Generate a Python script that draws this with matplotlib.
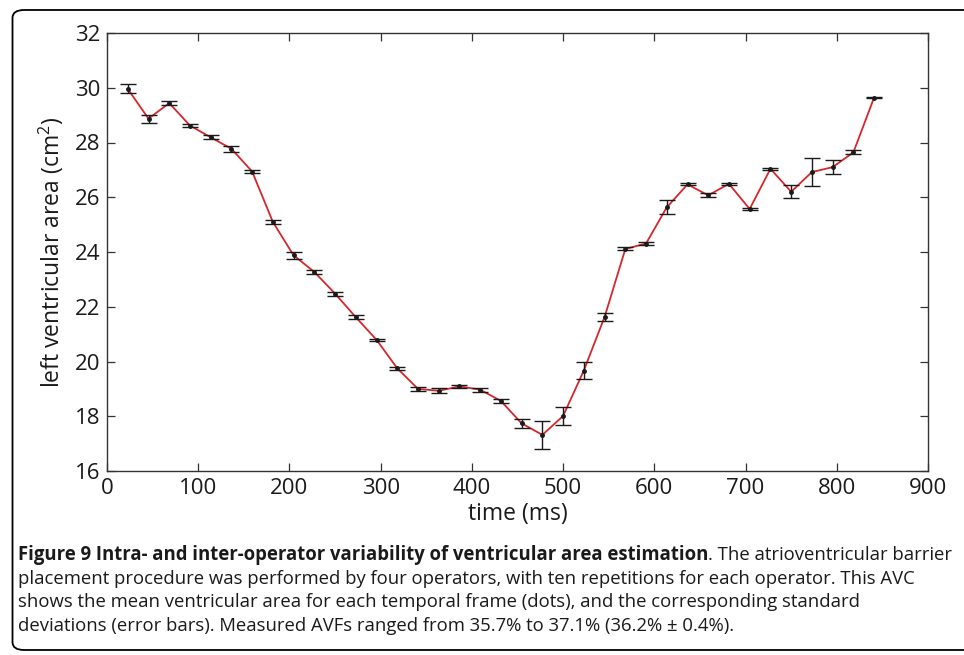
import matplotlib
matplotlib.use("Agg")
import matplotlib.pyplot as plt
from matplotlib.patches import FancyBboxPatch
from matplotlib import font_manager

times = [22.7, 45.5, 68.2, 90.9, 113.6, 136.4, 159.1, 181.8, 204.5, 227.3,
         250.0, 272.7, 295.5, 318.2, 340.9, 363.6, 386.4, 409.1, 431.8, 454.5,
         477.3, 500.0, 522.7, 545.5, 568.2, 590.9, 613.6, 636.4, 659.1, 681.8,
         704.5, 727.3, 750.0, 772.7, 795.5, 818.2, 840.9]
mean_area = [29.96, 28.87, 29.44, 28.62, 28.19, 27.77, 26.94, 25.10, 23.88, 23.27,
             22.48, 21.62, 20.79, 19.75, 19.00, 18.93, 19.09, 18.97, 18.56, 17.74,
             17.32, 18.01, 19.67, 21.63, 24.11, 24.31, 25.63, 26.47, 26.07, 26.49,
             25.57, 27.04, 26.20, 26.92, 27.10, 27.64, 29.64]
std_area = [0.17, 0.15, 0.085, 0.07, 0.07, 0.12, 0.05, 0.07, 0.12, 0.07,
            0.07, 0.07, 0.05, 0.06, 0.07, 0.085, 0.05, 0.07, 0.08, 0.17,
            0.51, 0.32, 0.32, 0.15, 0.055, 0.05, 0.26, 0.04, 0.07, 0.04,
            0.05, 0.04, 0.24, 0.52, 0.25, 0.07, 0.03]
xticks = [0, 100, 200, 300, 400, 500, 600, 700, 800, 900]
yticks = [16, 18, 20, 22, 24, 26, 28, 30, 32]
xlabel = "time (ms)"
ylabel = "left ventricular area (cm$^2$)"
caption_bold = "Figure 9 Intra- and inter-operator variability of ventricular area estimation"
caption_lines = [
    ". The atrioventricular barrier",
    "placement procedure was performed by four operators, with ten repetitions for each operator. This AVC",
    "shows the mean ventricular area for each temporal frame (dots), and the corresponding standard",
    "deviations (error bars). Measured AVFs ranged from 35.7% to 37.1% (36.2% \u00b1 0.4%).",
]

names = {f.name for f in font_manager.fontManager.ttflist}
main_font = "Open Sans" if "Open Sans" in names else "DejaVu Sans"
cap_font = "Liberation Sans Narrow" if "Liberation Sans Narrow" in names else main_font
plt.rcParams['font.family'] = [main_font, 'DejaVu Sans']
plt.rcParams['mathtext.fontset'] = 'custom'
plt.rcParams['mathtext.rm'] = main_font

W, H = 964, 655
fig = plt.figure(figsize=(W / 100, H / 100), dpi=100)

# outer rounded frame (cut off at right edge)
box = FancyBboxPatch((12.5 / W, 5 / H), (990 - 12.5) / W, (645 - 5) / H,
                     boxstyle="round,pad=0,rounding_size=0.012",
                     transform=fig.transFigure, fill=False, edgecolor="black",
                     linewidth=1.3, clip_on=False)
fig.patches.append(box)

ax = fig.add_axes([107 / W, 1 - 471 / H, (928 - 107) / W, (471 - 33) / H])
ax.plot(times, mean_area, color="#d7262b", linewidth=1.3, zorder=2)
ax.errorbar(times, mean_area, yerr=std_area, fmt="o", color="#1a1a1a",
            markersize=2.5, elinewidth=1.0, capsize=5.5, capthick=1.0, zorder=3)

ax.set_xlim(0, 900)
ax.set_ylim(16, 32)
ax.set_xticks(xticks)
ax.set_yticks(yticks)
ax.tick_params(direction="in", length=5.5, width=0.9, colors="#333333",
               labelcolor="#1a1a1a", labelsize=16, top=True, right=True, pad=5)
for s in ax.spines.values():
    s.set_color("#333333")
    s.set_linewidth(1.0)
ax.set_xlabel(xlabel, fontsize=16.5, color="#1a1a1a", labelpad=2)
ax.set_ylabel(ylabel, fontsize=16.5, color="#1a1a1a", labelpad=6)

# caption
fig.canvas.draw()
renderer = fig.canvas.get_renderer()
x0 = 18 / W
target = (955 - 18)
fs = 13.0
probe = fig.text(x0, 0, caption_bold, fontsize=fs, fontweight="bold", family=[cap_font, 'DejaVu Sans'])
probe2 = fig.text(x0, 0, caption_lines[0], fontsize=fs, family=[cap_font, 'DejaVu Sans'])
wtot = probe.get_window_extent(renderer).width + probe2.get_window_extent(renderer).width
probe.remove(); probe2.remove()
fs = fs * target / wtot * 0.99

ys = [555, 579, 602, 626]
t1 = fig.text(x0, 1 - ys[0] / H, caption_bold, fontsize=fs, fontweight="bold",
              family=[cap_font, 'DejaVu Sans'], va="center", color="#1a1a1a")
wb = t1.get_window_extent(renderer).width
fig.text(x0 + wb / W, 1 - ys[0] / H, caption_lines[0], fontsize=fs,
         family=[cap_font, 'DejaVu Sans'], va="center", color="#1a1a1a")
for line, y in zip(caption_lines[1:], ys[1:]):
    fig.text(x0, 1 - y / H, line, fontsize=fs, family=[cap_font, 'DejaVu Sans'],
             va="center", color="#1a1a1a")

fig.savefig("out.png", dpi=100)
